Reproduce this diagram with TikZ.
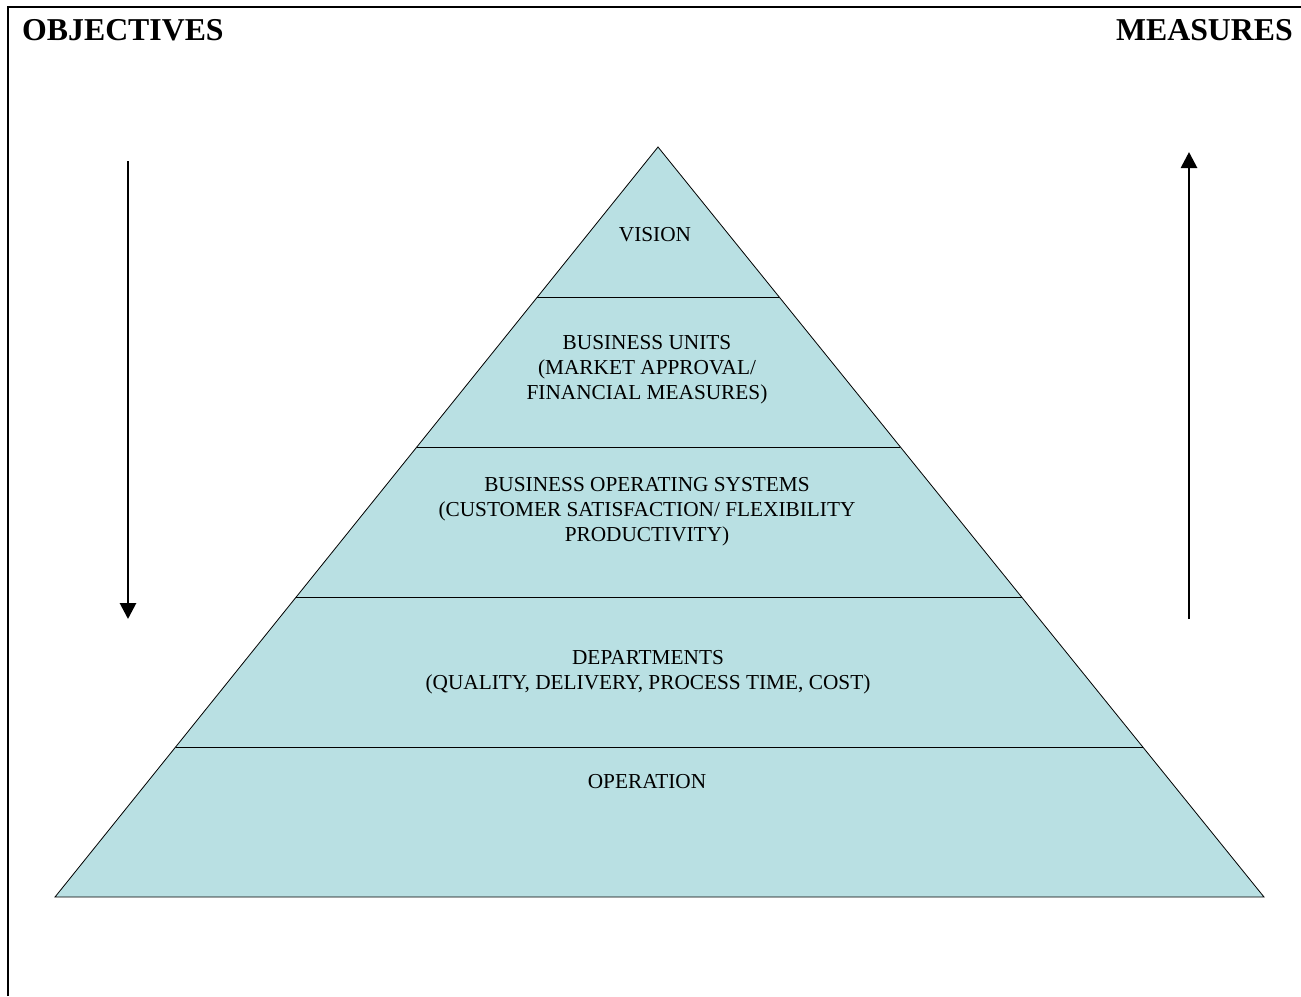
\documentclass[tikz,border=0pt]{standalone}
\usepackage{fontspec}
\setmainfont{Liberation Serif}
\usetikzlibrary{arrows.meta,calc}
\definecolor{pyrfill}{RGB}{185,224,227}
\tikzset{level text/.style={anchor=north, align=center, inner sep=0pt,
    font=\fontsize{21.3}{25}\selectfont},
  head text/.style={anchor=base, inner sep=0pt,
    font=\fontsize{31.8}{36}\selectfont\bfseries},
  flow arrow/.style={line width=2.8pt, -{Triangle[width=16pt,length=16pt]}}}

\begin{document}
\begin{tikzpicture}[x=1pt,y=-1pt]
        \useasboundingbox (0,0) rectangle (1301,996);
        \draw[line width=2.6pt] (8,996) -- (8,7) -- (1301,7);

        \node[head text, anchor=base west] (obj) at (22,40) {OBJECTIVES};
        \node[head text, anchor=base east] (meas) at (1293,40) {MEASURES};

        % pyramid
        \coordinate (apex) at (658,147);
        \coordinate (bl) at (55,897);
        \coordinate (br) at (1264,897);
        \fill[pyrfill] (apex) -- (bl) -- (br) -- cycle;
        \foreach \t in {0.2,0.4,0.6,0.8}
            \draw[line width=0.8pt] ($(apex)!\t!(bl)$) -- ($(apex)!\t!(br)$);
        \draw[line width=0.8pt] (apex) -- (bl) -- (br) -- cycle;

        \node[level text] (vision) at (655,227) {VISION};
        \node[level text] (units) at (647,335) {BUSINESS UNITS\\(MARKET APPROVAL/\\FINANCIAL MEASURES)};
        \node[level text] (systems) at (647,477) {BUSINESS OPERATING SYSTEMS\\(CUSTOMER SATISFACTION/ FLEXIBILITY\\PRODUCTIVITY)};
        \node[level text] (depts) at (648,650) {DEPARTMENTS\\(QUALITY, DELIVERY, PROCESS TIME, COST)};
        \node[level text] (oper) at (647,774) {OPERATION};

        % arrows
        \coordinate (objtop) at (128,161);
        \coordinate (objbot) at (128,619);
        \coordinate (meastop) at (1189,152);
        \coordinate (measbot) at (1189,619);
        \draw[flow arrow] (objtop) -- (objbot);
        \draw[flow arrow] (measbot) -- (meastop);
    \end{tikzpicture}
\end{document}
